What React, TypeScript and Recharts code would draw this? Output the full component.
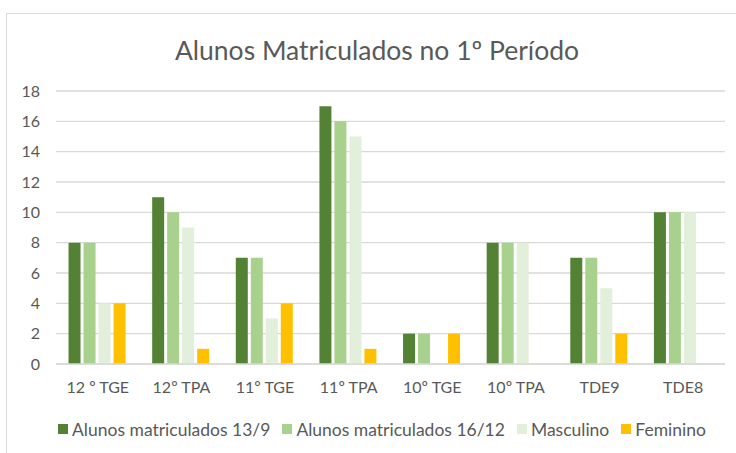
import React from 'react';
import { BarChart, Bar, XAxis, YAxis, CartesianGrid } from 'recharts';

const categories = ['12 º TGE', '12º TPA', '11º TGE', '11º TPA', '10º TGE', '10º TPA', 'TDE9', 'TDE8'];
const matriculados139 = [8, 11, 7, 17, 2, 8, 7, 10];
const matriculados1612 = [8, 10, 7, 16, 2, 8, 7, 10];
const masculino = [4, 9, 3, 15, 0, 8, 5, 10];
const feminino = [4, 1, 4, 1, 2, 0, 2, 0];
const yTicks = [0, 2, 4, 6, 8, 10, 12, 14, 16, 18];

const series = [
  { key: 'a', name: 'Alunos matriculados 13/9', color: '#548235', values: matriculados139 },
  { key: 'b', name: 'Alunos matriculados 16/12', color: '#a9d18e', values: matriculados1612 },
  { key: 'm', name: 'Masculino', color: '#e2efda', values: masculino },
  { key: 'f', name: 'Feminino', color: '#ffc000', values: feminino },
];

const data = categories.map((c, i) => {
  const row: Record<string, string | number> = { name: c };
  series.forEach((s) => { row[s.key] = s.values[i]; });
  return row;
});

const FONT = 'Lato, "Open Sans", sans-serif';
const TEXT = '#595959';

export default function App() {
  return (
    <div style={{ position: 'absolute', left: 0, top: 0, width: 736, height: 453, overflow: 'hidden', background: '#fff', fontFamily: FONT }}>
      <div style={{ position: 'absolute', left: 6, top: 13, width: 760, height: 460, border: '1px solid #d9d9d9', boxSizing: 'border-box' }} />
      <div style={{ position: 'absolute', left: 0, width: 754, top: 32, textAlign: 'center', fontSize: 26.5, color: TEXT, lineHeight: '36px' }}>
        Alunos Matriculados no 1º Período
      </div>
      <div style={{ position: 'absolute', left: 0, top: 0 }}>
        <BarChart width={736} height={453} data={data} margin={{ top: 91, right: 11, bottom: 59, left: 6 }} barCategoryGap="15%" barGap={3}>
          <CartesianGrid vertical={false} stroke="#d9d9d9" strokeWidth={1.3} />
          <XAxis dataKey="name" height={30} axisLine={{ stroke: '#d9d9d9', strokeWidth: 1.5 }} tickLine={false} tickSize={6} tickMargin={12}
            tick={{ fill: TEXT, fontSize: 16, fontFamily: FONT }} interval={0} />
          <YAxis width={50} domain={[0, 18]} ticks={yTicks} axisLine={false} tickLine={false} tickSize={6} tickMargin={10}
            tick={{ fill: TEXT, fontSize: 16, fontFamily: FONT }} />
          {series.map((s) => (
            <Bar key={s.key} dataKey={s.key} name={s.name} fill={s.color} isAnimationActive={false} />
          ))}
        </BarChart>
      </div>
      <div style={{ position: 'absolute', left: 0, width: 764, top: 418, height: 22, display: 'flex', justifyContent: 'center', alignItems: 'center', fontSize: 17.5, color: TEXT, whiteSpace: 'nowrap' }}>
        {series.map((s, i) => (
          <div key={s.key} style={{ display: 'flex', alignItems: 'center', marginRight: i < series.length - 1 ? 12 : 0 }}>
            <span style={{ display: 'inline-block', width: 10, height: 10, background: s.color, marginRight: 4 }} />
            <span>{s.name}</span>
          </div>
        ))}
      </div>
    </div>
  );
}
